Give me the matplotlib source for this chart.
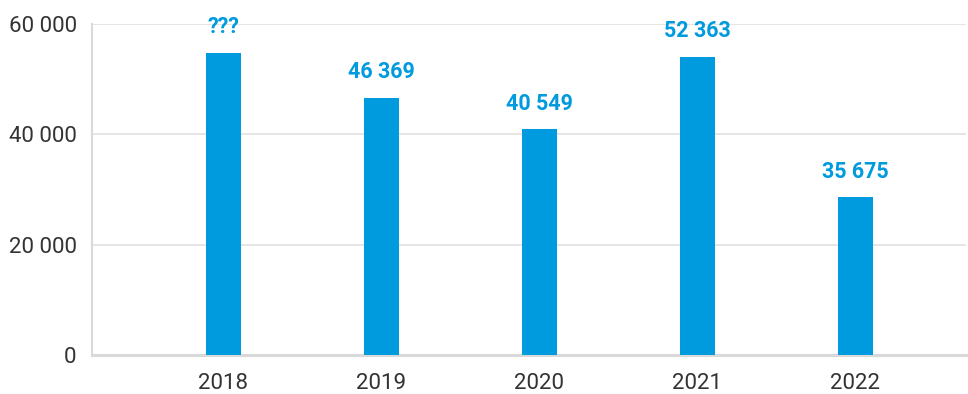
import matplotlib
matplotlib.use("Agg")
import matplotlib.pyplot as plt

years = ["2018", "2019", "2020", "2021", "2022"]
bar_values = [54800, 46600, 40900, 54100, 28600]
value_labels = ["???", "46 369", "40 549", "52 363", "35 675"]
y_ticks = [0, 20000, 40000, 60000]
y_tick_labels = ["0", "20 000", "40 000", "60 000"]

blue = "#009ADE"
grid_c = "#e0e0e0"
spine_c = "#d9d9d9"
text_c = "#333333"

fig = plt.figure(figsize=(9.68, 3.94), dpi=100)
ax = fig.add_axes([92/968, 1-355/394, (966-92)/968, (355-24)/394])

x = list(range(len(years)))
bars = ax.bar(x, bar_values, width=0.22, color=blue, zorder=3)

for xi, v, lab in zip(x, bar_values, value_labels):
    ax.annotate(lab, (xi, v), xytext=(0, 10.5), textcoords="offset points",
                ha="center", va="bottom", fontsize=15.5, fontweight="bold",
                color=blue, family="Roboto")

ax.set_ylim(0, 60000)
ax.set_xlim(-0.83, 4.70)
ax.set_yticks(y_ticks)
ax.set_yticklabels(y_tick_labels)
ax.set_xticks(x)
ax.set_xticklabels(years)
ax.grid(axis="y", color=grid_c, linewidth=1.2, zorder=0)
ax.set_axisbelow(True)

for lbl in ax.get_yticklabels() + ax.get_xticklabels():
    lbl.set_family("Roboto")
    lbl.set_fontsize(16)
    lbl.set_color(text_c)

ax.tick_params(axis="y", length=0, pad=11)
ax.tick_params(axis="x", length=0, pad=13)

ax.spines["top"].set_visible(False)
ax.spines["right"].set_visible(False)
ax.spines["left"].set_color(spine_c)
ax.spines["left"].set_linewidth(1.5)
ax.spines["bottom"].set_color(spine_c)
ax.spines["bottom"].set_linewidth(2.2)

fig.savefig("out.png", dpi=100)
